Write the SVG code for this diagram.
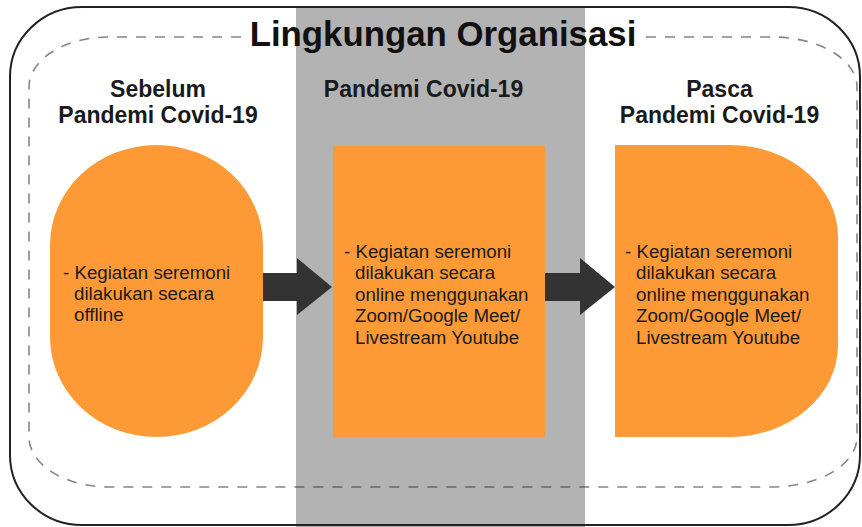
<svg xmlns="http://www.w3.org/2000/svg" width="862" height="527" viewBox="0 0 862 527">
  <style>
    .title { font-family: "Liberation Sans", Arial, sans-serif; font-weight: bold; font-size: 34.8px; fill: #111; }
    .head { font-family: "Liberation Sans", Arial, sans-serif; font-weight: bold; font-size: 23px; fill: #1a1a1a; text-anchor: middle; }
    .body { font-family: "Liberation Sans", Arial, sans-serif; font-size: 18.7px; fill: #1a1a1a; }
    .shape { fill: #FD9A36; }
    .arrow { fill: #333333; }
  </style>
  <rect x="0" y="0" width="862" height="527" fill="#ffffff"/>
  <g id="band">
    <rect x="296" y="7" width="289" height="520" fill="#B3B3B3"/>
  </g>
  <g id="frame">
    <rect x="10" y="7" width="850" height="518" rx="72" ry="70" fill="none" stroke="#222" stroke-width="2"/>
    <path d="M646,37 H772 A85,50 0 0 1 857,87 V437 A85,50 0 0 1 772,487 H109 A80,50 0 0 1 29,437 V87 A80,50 0 0 1 109,37 H243" fill="none" stroke="#333" stroke-opacity="0.6" stroke-width="1.6" stroke-dasharray="10 9"/>
    <text class="title" x="443" y="46" text-anchor="middle">Lingkungan Organisasi</text>
  </g>
  <g id="headings">
    <text class="head" x="158" y="97">Sebelum</text>
    <text class="head" x="158" y="123">Pandemi Covid-19</text>
    <text class="head" x="423.5" y="97">Pandemi Covid-19</text>
    <text class="head" x="719.5" y="97">Pasca</text>
    <text class="head" x="719.5" y="123">Pandemi Covid-19</text>
  </g>
  <g id="connectors">
    <path class="arrow" d="M255,273 H297 V258 L332,287 L297,315 V301 H255 Z"/>
    <path class="arrow" d="M545,273 H580 V258 L615,287 L580,315 V301 H545 Z"/>
  </g>
  <g id="node-sebelum">
    <rect class="shape" x="50" y="145" width="213" height="292" rx="106.5" ry="100"/>
    <text class="body" x="63" y="279">- Kegiatan seremoni</text>
    <text class="body" x="74" y="300">dilakukan secara</text>
    <text class="body" x="74" y="321">offline</text>
  </g>
  <g id="node-pandemi">
    <rect class="shape" x="333" y="146" width="212" height="291"/>
    <text class="body" x="344" y="257.5">- Kegiatan seremoni</text>
    <text class="body" x="355" y="279">dilakukan secara</text>
    <text class="body" x="355" y="300.5">online menggunakan</text>
    <text class="body" x="355" y="322">Zoom/Google Meet/</text>
    <text class="body" x="355" y="343.5">Livestream Youtube</text>
  </g>
  <g id="node-pasca">
    <path class="shape" d="M615,145 H730 A108,92 0 0 1 838,237 V345 A108,92 0 0 1 730,437 H615 Z"/>
    <text class="body" x="625" y="257.5">- Kegiatan seremoni</text>
    <text class="body" x="636" y="279">dilakukan secara</text>
    <text class="body" x="636" y="300.5">online menggunakan</text>
    <text class="body" x="636" y="322">Zoom/Google Meet/</text>
    <text class="body" x="636" y="343.5">Livestream Youtube</text>
  </g>
</svg>
